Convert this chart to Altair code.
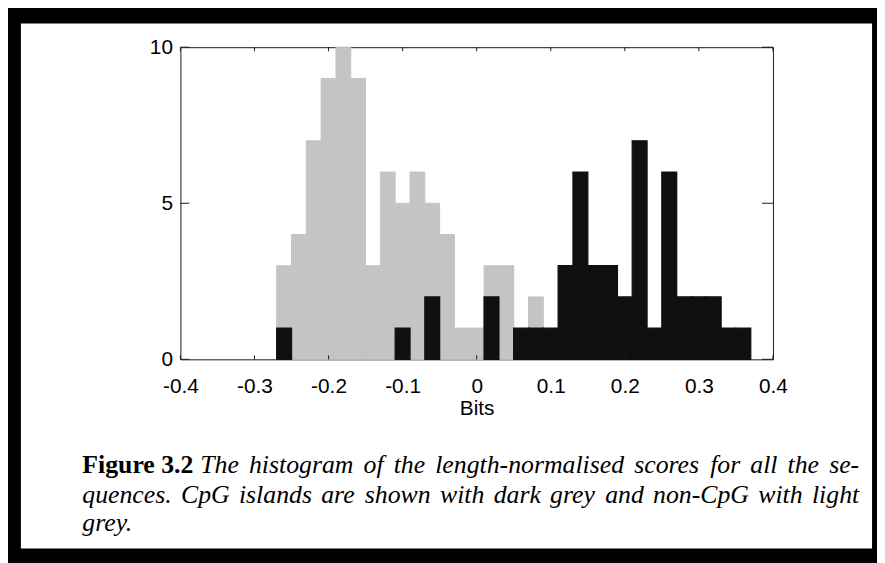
import altair as alt
import pandas as pd

# ---- data ----
BIN_WIDTH = 0.02
light_centers = [-0.26, -0.24, -0.22, -0.20, -0.18, -0.16, -0.14, -0.12, -0.10,
                 -0.08, -0.06, -0.04, -0.02, 0.00, 0.02, 0.04, 0.06, 0.08]
light_counts = [3, 4, 7, 9, 10, 9, 3, 6, 5, 6, 5, 4, 1, 1, 3, 3, 0, 2]

dark_centers = [-0.26, -0.10, -0.06, 0.02, 0.06, 0.08, 0.10, 0.12, 0.14, 0.16,
                0.18, 0.20, 0.22, 0.24, 0.26, 0.28, 0.30, 0.32, 0.34, 0.36]
dark_counts = [1, 1, 2, 2, 1, 1, 1, 3, 6, 3, 3, 2, 7, 1, 6, 2, 2, 2, 1, 1]

x_ticks = [-0.4, -0.3, -0.2, -0.1, 0.0, 0.1, 0.2, 0.3, 0.4]
y_ticks = [0, 5, 10]

caption_bold = "Figure 3.2"
caption_line1 = "The histogram of the length-normalised scores for all the se-"
caption_line2 = "quences.  CpG islands are shown with dark grey and non-CpG with light"
caption_line3 = "grey."

# ---- tables ----
def bins(centers, counts):
    df = pd.DataFrame({"center": centers, "count": counts})
    df["x0"] = df["center"] - BIN_WIDTH / 2
    df["x1"] = df["center"] + BIN_WIDTH / 2
    return df

df_light = bins(light_centers, light_counts)
df_dark = bins(dark_centers, dark_counts)
df_xt = pd.DataFrame({"v": x_ticks})
df_yt = pd.DataFrame({"v": y_ticks})
one = pd.DataFrame({"a": [0]})

W, H = 598, 315
xs = alt.Scale(domain=[-0.4, 0.4], nice=False, zero=False)
ys = alt.Scale(domain=[0, 10], nice=False, zero=True)

SANS = "Liberation Sans"
SERIF = "Liberation Serif"
INK = "#1a1a1a"
LIGHT = "#c4c4c4"
DARK = "#101010"
CAP_SIZE = 26

x_axis = alt.Axis(
    values=x_ticks, title="Bits", grid=False, ticks=False, tickSize=0, domain=False,
    labelExpr="datum.value == 0 ? '0' : replace(format(datum.value, '.1f'), '\u2212', '-')",
    labelFont=SANS, labelFontSize=21, labelColor="black", labelPadding=16,
    labelFlush=False, labelOverlap=False,
    titleFont=SANS, titleFontSize=21, titleFontWeight="normal", titleColor="black",
    titlePadding=2,
)
y_axis = alt.Axis(
    values=y_ticks, title=None, grid=False, ticks=False, tickSize=0, domain=False,
    labelFont=SANS, labelFontSize=21, labelColor="black", labelPadding=8,
    labelFlush=False, labelOverlap=False,
)

border = alt.Chart(one).mark_rect(
    fillOpacity=0, stroke="black", strokeWidth=16
).encode(
    x=alt.value(-169), x2=alt.value(706), y=alt.value(-32), y2=alt.value(514)
)

light = alt.Chart(df_light).mark_bar(color=LIGHT, stroke=LIGHT, strokeWidth=1.0).encode(
    x=alt.X("x0:Q", scale=xs, axis=x_axis),
    x2="x1:Q",
    y=alt.Y("count:Q", scale=ys, axis=y_axis),
    y2=alt.datum(0),
)

dark = alt.Chart(df_dark).mark_bar(color=DARK, stroke=DARK, strokeWidth=1.3).encode(
    x=alt.X("x0:Q", scale=xs, title="Bits"),
    x2="x1:Q",
    y=alt.Y("count:Q", scale=ys, title=""),
    y2=alt.datum(0),
)

bottom_ticks = alt.Chart(df_xt).mark_rule(color=INK, strokeWidth=1).encode(
    x=alt.X("v:Q", scale=xs, title="Bits"), y=alt.value(H), y2=alt.value(H - 4)
)
top_ticks = alt.Chart(df_xt).mark_rule(color=INK, strokeWidth=1).encode(
    x=alt.X("v:Q", scale=xs, title="Bits"), y=alt.value(0), y2=alt.value(4)
)
left_ticks = alt.Chart(df_yt).mark_rule(color=INK, strokeWidth=1).encode(
    y=alt.Y("v:Q", scale=ys, title=""), x=alt.value(0), x2=alt.value(9)
)
right_ticks = alt.Chart(df_yt).mark_rule(color=INK, strokeWidth=1).encode(
    y=alt.Y("v:Q", scale=ys, title=""), x=alt.value(W), x2=alt.value(W - 11)
)

# approximate Times italic advance widths (per 1000 em) for justified caption layout
ITALIC_W = {
    " ": 250, "a": 500, "b": 500, "c": 444, "d": 500, "e": 444, "f": 278, "g": 500,
    "h": 500, "i": 278, "j": 278, "k": 444, "l": 278, "m": 722, "n": 500, "o": 500,
    "p": 500, "q": 500, "r": 389, "s": 389, "t": 278, "u": 500, "v": 444, "w": 667,
    "x": 444, "y": 444, "z": 389, "C": 667, "G": 722, "T": 556, "-": 333, ".": 250,
}

def word_width(word):
    return sum(ITALIC_W.get(ch, 500) for ch in word) * CAP_SIZE / 1000.0

def text_mark(text, x, y, align="left", weight="normal", style="italic"):
    return alt.Chart(one).mark_text(
        align=align, baseline="alphabetic", font=SERIF, fontSize=CAP_SIZE,
        fontWeight=weight, fontStyle=style, color="black",
    ).encode(x=alt.value(x), y=alt.value(y), text=alt.value(text))

def justified(line, x_start, x_end, y):
    words = line.split()
    widths = [word_width(w) for w in words]
    gap = (x_end - x_start - sum(widths)) / (len(words) - 1)
    marks = []
    x = x_start
    for i, (w, ww) in enumerate(zip(words, widths)):
        if i == len(words) - 1:
            marks.append(text_mark(w, x_end, y, align="right"))
        else:
            marks.append(text_mark(w, x, y))
        x += ww + gap
    return marks

caption_marks = [text_mark(caption_bold, -99, 430, weight="bold", style="normal")]
caption_marks += justified(caption_line1, 20, 685, 430)
caption_marks += justified(caption_line2, -99, 685, 460)
caption_marks.append(text_mark(caption_line3, -99, 488))

chart = alt.layer(
    border, light, dark, bottom_ticks, top_ticks, left_ticks, right_ticks,
    *caption_marks,
).properties(
    width=W, height=H,
    background="white",
    padding={"left": 174, "top": 37, "right": 105, "bottom": 203},
    autosize=alt.AutoSizeParams(type="none"),
).configure_view(
    stroke=INK, strokeWidth=1
)

chart.save("out.html", embed_options={"renderer": "svg", "actions": False})
